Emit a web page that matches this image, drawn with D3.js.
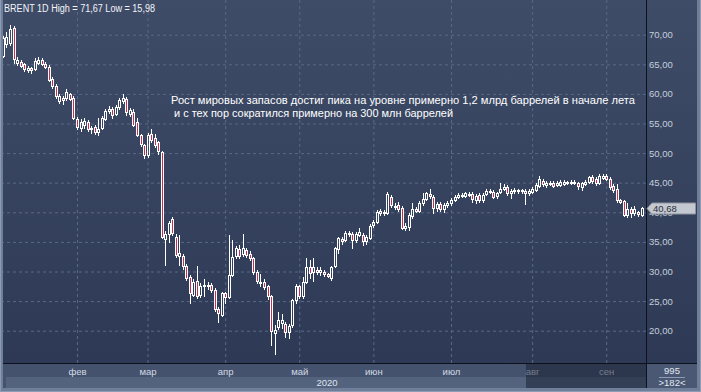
<!DOCTYPE html>
<html>
<head>
<meta charset="utf-8">
<script src="https://cdnjs.cloudflare.com/ajax/libs/d3/7.8.5/d3.min.js"></script>
<style>
  body { margin: 0; background: #8d9bb3; }
  #chart svg { display: block; }
</style>
</head>
<body>
<div id="chart"></div>
<script>
// BRENT 1D, daily candles
var openP = [66.0,66.4,68.4,68.6,71.2,65.2,65.4,65.0,64.0,64.3,64.2,65.3,65.7,65.1,64.6,62.5,61.4,58.8,59.3,59.3,
  59.9,59.3,55.8,54.3,54.8,55.3,54.0,54.4,53.6,54.3,55.8,57.1,57.4,56.6,57.8,58.8,59.2,56.6,56.9,55.3,
  53.0,51.4,49.6,53.2,52.6,51.8,50.2,35.5,36.4,38.8,35.9,32.6,32.6,30.9,29.0,26.1,28.4,26.0,27.6,27.8,
  27.7,26.9,23.7,22.7,26.3,25.7,29.4,32.6,33.8,33.0,33.7,33.0,32.2,30.0,28.3,28.3,27.5,25.8,19.6,20.7,
  21.3,21.2,19.8,20.9,25.2,27.5,25.8,28.3,30.8,30.0,30.3,30.0,29.9,29.5,28.9,30.9,33.8,35.5,35.4,36.5,
  36.3,35.3,36.2,36.2,35.1,35.7,37.8,38.4,39.8,40.1,39.9,42.6,41.1,41.3,40.8,37.3,37.6,39.3,40.5,40.2,
  41.5,42.3,43.1,42.6,40.8,41.4,40.6,41.2,41.5,42.1,42.6,42.9,42.8,43.1,43.1,42.1,42.9,42.0,43.1,43.6,
  43.5,42.7,43.4,43.9,44.3,43.3,43.6,43.8,43.6,43.6,43.2,43.5,43.8,44.4,45.3,44.6,45.0,45.0,44.6,44.6,
  44.8,45.1,44.9,45.2,45.0,44.3,44.8,45.2,46.0,45.6,44.9,45.8,46.2,45.7,44.4,43.9,42.0,41.9,39.6,40.6,
  39.9,40.0,39.5]
var highP = [66.6,69.8,70.5,71.67,71.4,66.2,65.8,65.3,64.7,64.6,66.0,66.3,66.1,65.4,64.8,62.9,61.6,60.0,59.6,60.9,
  60.2,59.6,56.1,55.8,56.0,55.6,54.6,54.8,55.9,56.3,57.5,58.0,57.8,58.2,59.3,60.0,59.5,57.6,57.5,55.9,
  53.3,51.6,53.4,54.0,53.2,52.0,50.4,36.8,38.6,39.2,36.3,36.2,33.0,31.2,29.4,28.8,30.9,28.0,28.7,28.2,
  28.0,27.2,24.0,26.5,26.6,36.2,35.3,34.3,34.5,36.4,34.0,33.4,32.5,30.3,29.5,28.7,27.7,26.0,21.0,23.2,
  22.8,21.4,21.2,25.4,27.9,27.8,29.0,32.2,31.9,32.2,30.7,30.8,30.2,29.8,31.0,34.1,35.9,35.9,36.9,36.8,
  36.6,36.7,37.3,36.5,36.1,38.0,38.7,40.4,40.6,40.4,43.4,43.0,41.5,41.7,41.0,38.2,39.8,41.6,40.9,41.9,
  43.2,43.5,43.9,42.9,41.8,41.7,41.5,41.9,42.4,42.9,43.2,43.3,43.5,43.4,43.4,43.1,43.2,43.3,43.9,43.9,
  43.7,43.5,44.9,44.8,44.6,43.9,44.1,44.0,44.0,43.9,43.9,44.3,44.9,46.2,45.6,45.3,45.3,45.3,45.3,45.4,
  45.5,45.3,45.4,45.5,45.2,45.1,45.4,46.2,46.3,45.9,46.4,46.4,46.4,46.0,44.7,44.7,42.3,42.1,41.5,40.9,
  41.0,40.3,40.9]
var lowP = [65.6,66.3,68.0,68.3,65.3,64.8,64.5,63.8,63.7,63.5,64.0,65.0,64.8,64.3,62.2,61.0,59.3,58.5,58.3,59.0,
  58.9,55.7,54.0,53.8,54.3,53.8,53.4,53.2,53.0,54.0,55.6,56.8,56.0,56.4,57.5,58.5,56.5,56.2,54.5,52.9,
  51.2,49.2,49.3,51.8,51.0,49.8,35.6,31.1,35.0,36.2,32.5,31.1,30.5,28.6,24.7,25.8,25.5,25.7,25.8,27.0,
  26.5,23.4,21.5,22.4,24.7,25.5,29.2,32.3,32.3,32.6,32.5,31.9,29.6,28.0,27.6,27.1,25.4,17.6,15.98,20.3,
  20.4,19.0,18.7,20.6,24.6,25.5,25.6,28.0,28.9,28.4,29.6,29.4,29.2,29.0,28.6,30.7,33.2,34.7,35.2,36.0,
  33.9,35.0,36.0,34.5,34.6,35.5,37.5,38.2,39.5,39.5,39.7,40.9,40.5,40.2,37.1,37.0,37.0,39.0,40.0,40.0,
  41.2,42.0,42.5,39.8,40.3,40.2,40.0,40.9,41.2,41.9,42.4,42.6,42.6,42.7,41.8,41.6,41.8,41.8,42.9,43.2,
  42.4,42.5,43.2,43.7,42.9,42.5,43.3,43.3,43.3,41.4,43.0,43.3,43.6,44.2,44.4,44.3,44.6,44.2,44.4,44.4,
  44.6,44.7,44.7,44.8,44.0,43.7,44.6,45.0,45.0,44.6,44.7,45.6,45.4,44.0,43.4,41.8,41.5,39.3,39.2,39.2,
  39.6,39.4,39.3]
var closeP = [66.3,69.4,69.6,71.0,65.9,65.8,64.7,64.2,64.3,64.0,65.5,65.8,65.0,64.6,62.4,61.3,59.6,59.6,59.0,60.4,
  59.2,56.0,54.4,55.3,55.5,54.1,54.2,53.5,54.0,55.9,57.1,57.5,56.4,57.8,58.9,59.3,56.9,57.2,54.8,53.1,
  51.5,49.6,53.0,52.2,51.4,50.3,35.9,36.4,38.2,36.5,32.8,33.2,30.9,28.9,26.4,28.2,25.8,27.6,27.8,27.6,
  26.9,23.7,23.0,26.3,25.7,29.4,32.5,33.9,32.6,33.9,32.8,32.3,30.0,28.4,28.0,27.4,25.8,19.9,20.2,21.8,
  21.8,19.7,20.8,25.2,27.5,25.8,28.3,30.8,29.8,30.8,30.0,30.2,29.5,29.3,30.8,33.9,35.6,35.1,36.5,36.4,
  35.3,36.4,36.6,35.2,35.8,37.7,38.4,40.0,40.3,39.9,43.1,41.2,40.9,40.6,37.3,37.7,39.5,40.5,40.3,41.6,
  42.2,43.2,42.8,40.8,41.4,40.6,41.2,41.6,42.1,42.6,42.9,43.0,43.2,43.0,42.2,42.8,42.0,43.0,43.6,43.5,
  42.6,43.2,44.0,44.3,43.3,43.6,43.8,43.6,43.7,43.2,43.6,44.0,44.6,45.6,44.7,45.0,44.9,44.4,45.0,45.2,
  45.2,44.9,45.2,45.0,44.5,44.9,45.1,46.0,45.3,44.9,46.1,46.2,45.7,44.3,43.7,42.0,41.8,39.6,40.6,39.9,
  40.5,39.7,40.68]

var holidays = ['2020-04-10']
var monthLabels = ['фев', 'мар', 'апр', 'май', 'июн', 'июл', 'авг', 'сен']
var yearLabel = '2020'
var yTicks = [20, 25, 30, 35, 40, 45, 50, 55, 60, 65, 70]
var lastPrice = 40.68
var titleText = 'BRENT 1D High = 71,67 Low = 15,98'
var noteLines = ['Рост мировых запасов достиг пика на уровне примерно 1,2 млрд баррелей в начале лета',
  ' и с тех пор сократился примерно на 300 млн баррелей']
var cornerTop = '995', cornerBottom = '>182<'

;(function() {
  var width = 701, height = 392
  var plotL = 3, plotR = 646, plotB = 363, axisB = 388

  var n = openP.length
  var keyFmt = d3.timeFormat('%Y-%m-%d')
  var days = []
  for (var d = new Date(2020, 0, 2); days.length < n; d.setDate(d.getDate() + 1)) {
    if (d.getDay() === 0 || d.getDay() === 6 || holidays.indexOf(keyFmt(d)) >= 0) continue
    days.push(new Date(d))
  }
  var monthStarts = []
  days.forEach(function(day, i) {
    if (i > 0 && day.getMonth() !== days[i - 1].getMonth()) monthStarts.push(i)
  })

  var fmt = d3.formatLocale({decimal: ',', thousands: ' ', grouping: [3], currency: ['', '']}).format('.2f')
  var font = '"Liberation Sans", Arial, sans-serif'

  var svg = d3.select('#chart')
    .append('svg')
    .attr('width', width)
    .attr('height', height)

  var x = d3.scalePoint().domain(d3.range(n)).range([-0.6, 641.5])
  var y = d3.scaleLinear().domain([20, 70]).range([330.7, 34.7])

  var defs = svg.append('defs')
  var grad = defs.append('linearGradient')
    .attr('id', 'bg')
    .attr('x1', 0).attr('y1', 0).attr('x2', 0).attr('y2', 1)
  grad.append('stop').attr('offset', '0%').attr('stop-color', '#3f4c68')
  grad.append('stop').attr('offset', '100%').attr('stop-color', '#2e3a55')
  defs.append('clipPath').attr('id', 'clip')
    .append('rect')
    .attr('x', plotL).attr('y', 0)
    .attr('width', plotR - plotL).attr('height', plotB)

  // frame and panels
  svg.append('rect')
    .attr('width', width).attr('height', height)
    .attr('fill', '#8d9bb3')
  svg.append('rect')
    .attr('x', 1).attr('y', 0)
    .attr('width', width - 2).attr('height', height - 1)
    .attr('fill', '#6f7f9a')
  svg.append('rect')
    .attr('x', plotL).attr('y', 0)
    .attr('width', 697 - plotL).attr('height', plotB)
    .attr('fill', 'url(#bg)')

  // bottom axis bands
  svg.append('rect')
    .attr('x', plotL).attr('y', plotB)
    .attr('width', plotR - plotL).attr('height', axisB - plotB)
    .attr('fill', '#44526d')
  svg.append('rect')
    .attr('x', 6).attr('y', 377)
    .attr('width', plotR - 6).attr('height', axisB - 377)
    .attr('fill', '#53627d')
  svg.append('rect')
    .attr('x', plotR).attr('y', plotB)
    .attr('width', 697 - plotR).attr('height', axisB - plotB)
    .attr('fill', '#4a5874')

  // grid
  var gridY = svg.append('g')
    .attr('transform', 'translate(' + plotR + ',0)')
    .call(d3.axisLeft(y).tickValues(yTicks).tickSize(plotR - plotL).tickFormat(''))
  gridY.select('.domain').remove()
  gridY.selectAll('line')
    .attr('stroke', '#5a6986')
    .attr('stroke-dasharray', '3,3')

  var gridX = svg.append('g')
    .attr('transform', 'translate(0,' + plotB + ')')
    .call(d3.axisTop(x).tickValues(monthStarts).tickSize(plotB).tickFormat(''))
  gridX.select('.domain').remove()
  gridX.selectAll('line')
    .attr('stroke', '#5a6986')
    .attr('stroke-dasharray', '3,3')

  // candles
  var plot = svg.append('g').attr('clip-path', 'url(#clip)')

  function cx(i) { return Math.round(x(i)) }
  function bodyTop(i) { return Math.round(y(Math.max(openP[i], closeP[i]))) }
  function bodyBot(i) { return Math.max(bodyTop(i) + 1, Math.round(y(Math.min(openP[i], closeP[i])))) }

  var candle = plot.selectAll('.candle')
    .data(d3.range(n))
    .enter().append('g')
    .attr('class', 'candle')

  candle.append('line')
    .attr('x1', function(i) { return cx(i) + 0.5 })
    .attr('x2', function(i) { return cx(i) + 0.5 })
    .attr('y1', function(i) { return Math.round(y(highP[i])) })
    .attr('y2', function(i) { return bodyTop(i) })
    .attr('stroke', '#ffffff')

  candle.append('line')
    .attr('x1', function(i) { return cx(i) + 0.5 })
    .attr('x2', function(i) { return cx(i) + 0.5 })
    .attr('y1', function(i) { return bodyBot(i) + 1 })
    .attr('y2', function(i) { return Math.round(y(lowP[i])) + 1 })
    .attr('stroke', '#ffffff')

  candle.append('rect')
    .attr('x', function(i) { return cx(i) - 0.5 })
    .attr('y', function(i) { return bodyTop(i) + 0.5 })
    .attr('width', 2)
    .attr('height', function(i) { return bodyBot(i) - bodyTop(i) })
    .attr('fill', function(i) { return closeP[i] < openP[i] ? '#c3304f' : 'none' })
    .attr('stroke', '#ffffff')

  // separators
  svg.append('line')
    .attr('x1', plotR + 0.5).attr('x2', plotR + 0.5)
    .attr('y1', 0).attr('y2', axisB)
    .attr('stroke', '#0c111b')
  svg.append('line')
    .attr('x1', plotL).attr('x2', 697)
    .attr('y1', plotB + 0.5).attr('y2', plotB + 0.5)
    .attr('stroke', '#0c111b')

  // right axis
  var yAxis = svg.append('g')
    .attr('transform', 'translate(' + plotR + ',0)')
    .call(d3.axisRight(y).tickValues(yTicks).tickSize(0).tickPadding(3).tickFormat(fmt))
  yAxis.select('.domain').remove()
  yAxis.selectAll('text')
    .style('font-family', font)
    .style('font-size', '9.5px')
    .attr('fill', '#c6cedb')

  // last price tag
  var ly = Math.round(y(lastPrice)) + 0.5
  svg.append('path')
    .attr('d', 'M' + (plotR + 1) + ',' + ly + 'L' + (plotR + 6) + ',' + (ly - 5.5) + 'H695.5V' + (ly + 5.5) + 'H' + (plotR + 6) + 'Z')
    .attr('fill', '#c4c8d0')
    .attr('stroke', '#8e949e')
  svg.append('text')
    .attr('x', plotR + 7)
    .attr('y', ly + 3.5)
    .style('font-family', font)
    .style('font-size', '9.5px')
    .attr('fill', '#2c313b')
    .text(fmt(lastPrice))

  // month labels
  var xAxis = svg.append('g')
    .attr('transform', 'translate(0,' + plotB + ')')
    .call(d3.axisBottom(x).tickValues(monthStarts).tickSize(0).tickPadding(5)
      .tickFormat(function(i, k) { return monthLabels[k] }))
  xAxis.select('.domain').remove()
  xAxis.selectAll('text')
    .style('font-family', font)
    .style('font-size', '9.5px')
    .attr('fill', '#d3dae5')

  svg.append('text')
    .attr('x', 327)
    .attr('y', 386)
    .attr('text-anchor', 'middle')
    .style('font-family', font)
    .style('font-size', '9.5px')
    .attr('fill', '#dfe5ee')
    .text(yearLabel)

  // dimmed tail of the time axis
  svg.append('rect')
    .attr('x', 526).attr('y', plotB + 1)
    .attr('width', plotR - 526).attr('height', axisB - plotB - 1)
    .attr('fill', '#141c2d')
    .attr('opacity', 0.5)

  // corner box
  svg.append('text')
    .attr('x', 672).attr('y', 374)
    .attr('text-anchor', 'middle')
    .style('font-family', font)
    .style('font-size', '9.5px')
    .attr('fill', '#e3e8f0')
    .text(cornerTop)
  svg.append('line')
    .attr('x1', 659).attr('x2', 685)
    .attr('y1', 377.5).attr('y2', 377.5)
    .attr('stroke', '#8f9bb0')
  svg.append('text')
    .attr('x', 672).attr('y', 386)
    .attr('text-anchor', 'middle')
    .style('font-family', font)
    .style('font-size', '9.5px')
    .attr('fill', '#e3e8f0')
    .text(cornerBottom)

  // title and note
  svg.append('text')
    .attr('x', 4).attr('y', 12)
    .style('font-family', font)
    .style('font-size', '10px')
    .attr('textLength', 151)
    .attr('lengthAdjust', 'spacingAndGlyphs')
    .attr('fill', '#f2f4f8')
    .text(titleText)

  svg.selectAll('.note')
    .data(noteLines)
    .enter().append('text')
    .attr('class', 'note')
    .attr('x', 171)
    .attr('y', function(d, k) { return 103.5 + k * 13 })
    .attr('textLength', function(d, k) { return k === 0 ? 464 : 282 })
    .attr('lengthAdjust', 'spacingAndGlyphs')
    .style('font-family', font)
    .style('font-size', '11.5px')
    .style('white-space', 'pre')
    .attr('fill', '#ffffff')
    .text(function(d) { return d })
})();
</script>
</body>
</html>
